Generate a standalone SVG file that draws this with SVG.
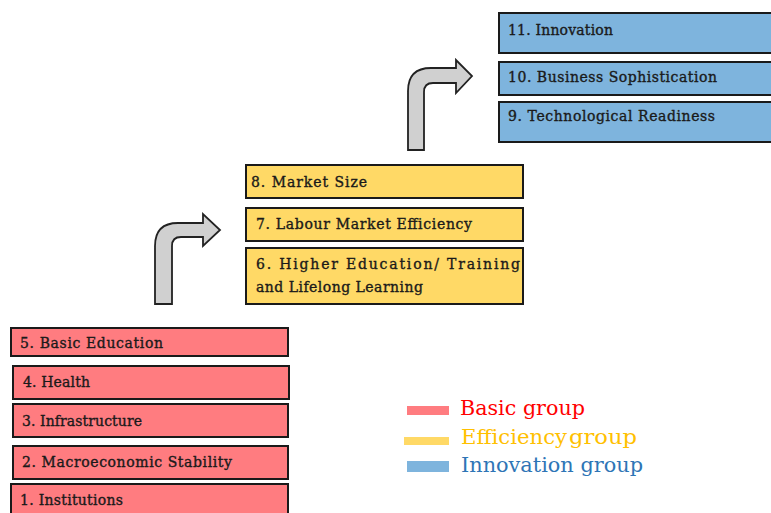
<svg xmlns="http://www.w3.org/2000/svg" width="771" height="513" viewBox="0 0 771 513">
<style>
.box{stroke:#1a1a1a;stroke-width:2}
.red{fill:#ff7c80}
.yel{fill:#ffd966}
.blu{fill:#7eb4dd}
.t{font-family:"DejaVu Serif","Liberation Serif",serif;font-size:14px;fill:#1a1a1a;stroke:#1a1a1a;stroke-width:0.35}
.arrow{fill:#d0d0d0;stroke:#222;stroke-width:1.8;stroke-linejoin:miter}
.lg{font-family:"DejaVu Serif","Liberation Serif",serif;font-size:20px}
</style>
<rect width="771" height="513" fill="#ffffff"/>
<g id="connectors">
<path class="arrow" d="M155,304 L155,246 Q155,223 178,223 L203,223 L203,214 L220,230 L203,246 L203,237 L181,237 Q172,237 172,246 L172,304 Z"/>
<path class="arrow" d="M408,150 L408,91 Q408,68 431,68 L456,68 L456,60 L472,76 L456,93 L456,83 L433,83 Q424,83 424,92 L424,150 Z"/>
</g>
<g id="n11"><rect class="box blu" x="499" y="13" width="280" height="40"/><text class="t" x="508" y="35" textLength="105" lengthAdjust="spacing">11. Innovation</text></g>
<g id="n10"><rect class="box blu" x="499" y="62" width="280" height="33"/><text class="t" x="508" y="82" textLength="209" lengthAdjust="spacing">10. Business  Sophistication</text></g>
<g id="n9"><rect class="box blu" x="499" y="102" width="280" height="40"/><text class="t" x="508" y="121" textLength="207" lengthAdjust="spacing">9. Technological  Readiness</text></g>
<g id="n8"><rect class="box yel" x="246" y="165" width="277" height="33"/><text class="t" x="251" y="187" textLength="116" lengthAdjust="spacing">8. Market  Size</text></g>
<g id="n7"><rect class="box yel" x="246" y="208" width="277" height="33"/><text class="t" x="256" y="229" textLength="216" lengthAdjust="spacing">7. Labour Market  Efficiency</text></g>
<g id="n6"><rect class="box yel" x="246" y="248" width="277" height="56"/><text class="t" x="256" y="269" textLength="264" lengthAdjust="spacing">6. Higher  Education/  Training</text><text class="t" x="256" y="292" textLength="167" lengthAdjust="spacing">and Lifelong  Learning</text></g>
<g id="n5"><rect class="box red" x="11" y="328" width="277" height="28"/><text class="t" x="20" y="348" textLength="143" lengthAdjust="spacing">5. Basic  Education</text></g>
<g id="n4"><rect class="box red" x="13" y="366" width="276" height="33"/><text class="t" x="23" y="387" textLength="67" lengthAdjust="spacing">4. Health</text></g>
<g id="n3"><rect class="box red" x="13" y="404" width="275" height="33"/><text class="t" x="22" y="426" textLength="120" lengthAdjust="spacing">3. Infrastructure</text></g>
<g id="n2"><rect class="box red" x="13" y="446" width="275" height="33"/><text class="t" x="22" y="467" textLength="210" lengthAdjust="spacing">2. Macroeconomic   Stability</text></g>
<g id="n1"><rect class="box red" x="11" y="484" width="277" height="40"/><text class="t" x="20" y="505" textLength="103" lengthAdjust="spacing">1. Institutions</text></g>
<g id="legend">
<rect x="407" y="406" width="42" height="9" fill="#ff7c80"/>
<text class="lg" x="460" y="415" fill="#ff0000" textLength="125" lengthAdjust="spacingAndGlyphs">Basic group</text>
<rect x="404" y="437" width="45" height="8" fill="#ffd966"/>
<text class="lg" y="444" fill="#ffc000"><tspan x="461" textLength="106" lengthAdjust="spacingAndGlyphs">Efficiency</tspan> <tspan x="569" textLength="68" lengthAdjust="spacingAndGlyphs">group</tspan></text>
<rect x="407" y="461" width="42" height="11" fill="#7eb4dd"/>
<text class="lg" x="461" y="472" fill="#2e75b6" textLength="182" lengthAdjust="spacingAndGlyphs">Innovation group</text>
</g>
</svg>
